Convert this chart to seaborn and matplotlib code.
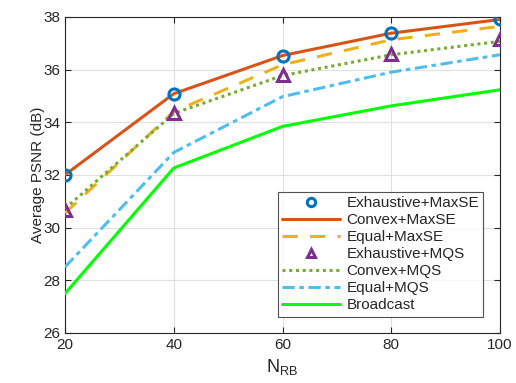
import numpy as np
import pandas as pd
import matplotlib
matplotlib.use("Agg")
import matplotlib.pyplot as plt
import seaborn as sns

# data
n_rb = [20, 40, 60, 80, 100]
exhaustive_maxse = [32.0, 35.08, 36.53, 37.38, 37.9]
convex_maxse = [32.0, 35.08, 36.53, 37.38, 37.9]
equal_maxse = [30.55, 34.4, 36.18, 37.13, 37.64]
exhaustive_mqs = [30.68, 34.35, 35.8, 36.6, 37.17]
convex_mqs = [30.72, 34.33, 35.77, 36.56, 37.07]
equal_mqs = [28.5, 32.85, 34.97, 35.9, 36.56]
broadcast = [27.49, 32.26, 33.84, 34.62, 35.23]

sns.set_style("white")
plt.rcParams["font.family"] = ["Liberation Sans", "DejaVu Sans"]

fig = plt.figure(figsize=(5.16, 3.83), dpi=100)
ax = fig.add_axes([0.126, 0.131, 0.843, 0.825])

# ===============================
# series
# ===============================
sns.lineplot(x=n_rb, y=exhaustive_maxse, ax=ax, color="#0072BD", linestyle="none",
             marker="o", markersize=8, markerfacecolor="none", markeredgewidth=2.2,
             markeredgecolor="#0072BD", label="Exhaustive+MaxSE", zorder=5)
sns.lineplot(x=n_rb, y=convex_maxse, ax=ax, color="#D95319", linewidth=2.2,
             label="Convex+MaxSE", zorder=4)
sns.lineplot(x=n_rb, y=equal_maxse, ax=ax, color="#EDB120", linewidth=2.2,
             dashes=(5, 4), label="Equal+MaxSE", zorder=3)
sns.lineplot(x=n_rb, y=exhaustive_mqs, ax=ax, color="#7E2F8E", linestyle="none",
             marker="^", markersize=9, markerfacecolor="none", markeredgewidth=2.2,
             markeredgecolor="#7E2F8E", label="Exhaustive+MQS", zorder=5)
sns.lineplot(x=n_rb, y=convex_mqs, ax=ax, color="#77AC30", linewidth=2.2,
             dashes=(1, 1.2), label="Convex+MQS", zorder=4)
sns.lineplot(x=n_rb, y=equal_mqs, ax=ax, color="#4DBEEE", linewidth=2.2,
             dashes=(4, 1.5, 1.5, 1.5), label="Equal+MQS", zorder=3)
sns.lineplot(x=n_rb, y=broadcast, ax=ax, color="#00FF00", linewidth=2.2,
             label="Broadcast", zorder=3)

# ===============================
# axes
# ===============================
ax.set_xlim(20, 100)
ax.set_ylim(26, 38)
ax.set_xticks([20, 40, 60, 80, 100])
ax.set_yticks([26, 28, 30, 32, 34, 36, 38])
ax.grid(True, color="#e0e0e0", linewidth=0.8)
ax.tick_params(direction="in", length=4, labelsize=11, colors="#262626",
               top=True, right=True, bottom=True, left=True)
for s in ax.spines.values():
    s.set_color("#262626")
    s.set_linewidth(0.8)
ax.set_xlabel(r"N$_{\mathregular{RB}}$", fontsize=13, color="#262626")
ax.set_ylabel("Average PSNR (dB)", fontsize=11, color="#262626", labelpad=-1)

leg = ax.legend(loc="lower right", bbox_to_anchor=(0.962, 0.05), fontsize=11,
                frameon=True, fancybox=False, edgecolor="#262626",
                handlelength=3.8, borderpad=0.3, labelspacing=0.2,
                handletextpad=0.4, borderaxespad=0)
leg.get_frame().set_linewidth(0.8)
for h in leg.legend_handles:
    h.set_markersize(6)

plt.savefig("out.png", dpi=100)
plt.close()
